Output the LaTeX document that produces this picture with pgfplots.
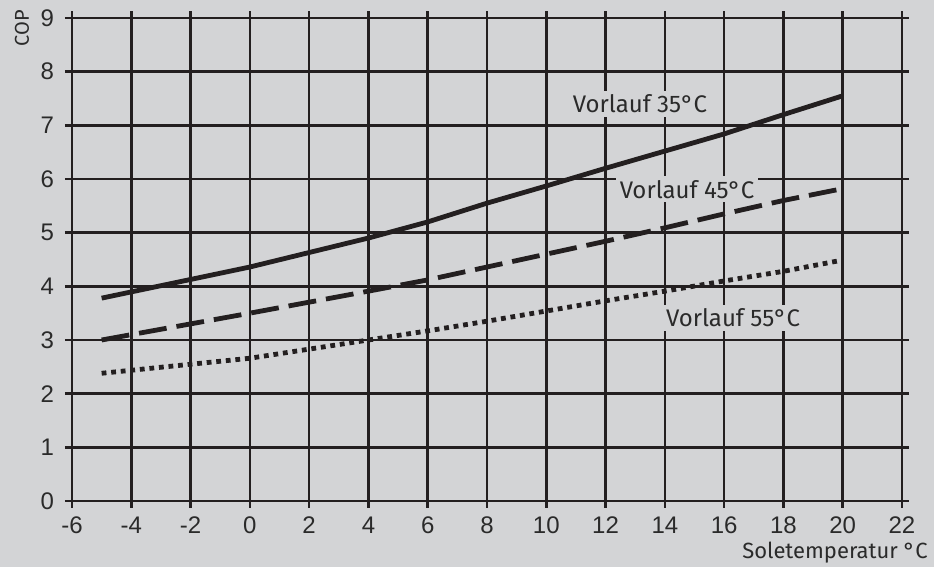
\documentclass[border=0pt]{standalone}
\usepackage{pgfplots}
\pgfplotsset{compat=1.18}
\usepackage{fontspec}
\setmainfont{Liberation Sans}
\newfontfamily\lblfont{Fira Sans}
\definecolor{bg}{HTML}{D3D4D6}
\definecolor{ink}{HTML}{231F20}
\definecolor{txt}{HTML}{2A2A2A}
\begin{document}
\begin{tikzpicture}
\path[use as bounding box, fill=bg] (-36pt,-33pt) rectangle (431pt,250.5pt);
\begin{axis}[
  at={(0,0)}, anchor=south west,
  scale only axis, width=415pt, height=241.5pt,
  xmin=-6, xmax=22, ymin=0, ymax=9,
  xtick={-6,-4,...,22}, ytick={0,1,...,9},
  grid=major,
  major grid style={ink, line width=1.3pt},
  axis line style={ink, line width=1.3pt},
  tick style={ink, line width=1.3pt},
  tick align=outside, major tick length=3.5pt,
  xtick pos=both, ytick pos=both,
  xticklabel pos=bottom, yticklabel pos=left,
  /pgf/number format/assume math mode=true,
  ticklabel style={font=\fontsize{12}{14}\selectfont, text=txt},
  xticklabel style={yshift=-1pt},
  yticklabel style={xshift=-2pt},
  axis background/.style={fill=bg},
  clip=false,
]
\addplot[ink, line width=2.4pt] coordinates {
(-5,3.78) (0,4.36) (4,4.90) (6,5.20) (8,5.55) (10,5.87) (12,6.20) (14,6.52) (16,6.84) (18,7.20) (20,7.55)};
\addplot[ink, line width=2.4pt, dash pattern=on 14pt off 5pt] coordinates {
(-5,3.00) (0,3.50) (4,3.91) (6,4.12) (8,4.36) (10,4.60) (12,4.84) (14,5.09) (16,5.35) (18,5.60) (20,5.82)};
\addplot[ink, line width=2.4pt, dash pattern=on 2.4pt off 2.4pt] coordinates {
(-5,2.38) (0,2.66) (4,3.00) (6,3.17) (8,3.35) (10,3.54) (12,3.73) (14,3.91) (16,4.10) (18,4.28) (20,4.49)};
\node[fill=bg, inner sep=2pt, text=txt, font=\lblfont\fontsize{12}{14}\selectfont] at (axis cs:13.16,7.40) {Vorlauf 35°C};
\node[fill=bg, inner sep=2pt, text=txt, font=\lblfont\fontsize{12}{14}\selectfont] at (axis cs:14.75,5.81) {Vorlauf 45°C};
\node[fill=bg, inner sep=2pt, text=txt, font=\lblfont\fontsize{12}{14}\selectfont] at (axis cs:16.30,3.41) {Vorlauf 55°C};
\node[anchor=east, text=txt, inner sep=0pt, font=\lblfont\fontsize{11}{13}\selectfont] at ([xshift=13pt,yshift=-26pt]rel axis cs:1,0) {Soletemperatur °C};
\node[rotate=90, text=txt, inner sep=0pt, font=\lblfont\fontsize{10}{12}\selectfont] at ([xshift=-25pt,yshift=-5pt]rel axis cs:0,1) {COP};
\end{axis}
\end{tikzpicture}
\end{document}
